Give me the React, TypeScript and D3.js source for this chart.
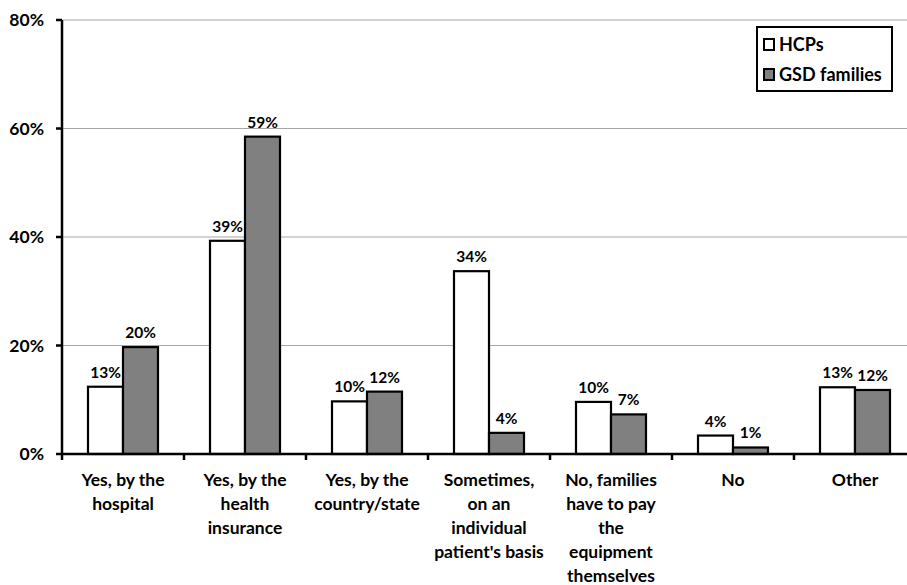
import React from "react";
import * as d3 from "d3";

const categories = [
  "Yes, by the|hospital",
  "Yes, by the|health|insurance",
  "Yes, by the|country/state",
  "Sometimes,|on an|individual|patient's basis",
  "No, families|have to pay|the|equipment|themselves",
  "No",
  "Other",
];
const seriesNames = ["HCPs", "GSD families"];
const hcpValues = [12.4, 39.3, 9.7, 33.7, 9.6, 3.4, 12.3];
const gsdValues = [19.7, 58.5, 11.5, 3.9, 7.3, 1.2, 11.8];
const hcpLabels = ["13%", "39%", "10%", "34%", "10%", "4%", "13%"];
const gsdLabels = ["20%", "59%", "12%", "4%", "7%", "1%", "12%"];
const yTicks = [0, 20, 40, 60, 80];

const W = 907;
const H = 585;
const FONT = "Lato, 'Open Sans', sans-serif";

export default function App() {
  const left = 62;
  const right = 916;
  const top = 20;
  const bottom = 454;
  const x = d3.scaleBand<number>().domain(d3.range(categories.length)).range([left, right]).paddingInner(0).paddingOuter(0);
  const y = d3.scaleLinear().domain([0, 80]).range([bottom, top]);
  const inner = d3.scaleBand<number>().domain([0, 1]).range([0, 70]);
  const groupOffset = (x.bandwidth() - 70) / 2;
  const series = [
    { values: hcpValues, labels: hcpLabels, fill: "#ffffff" },
    { values: gsdValues, labels: gsdLabels, fill: "#808080" },
  ];
  const catTicks = d3.range(categories.length + 1).map((i) => left + i * x.step());

  return (
    <div style={{ position: "fixed", left: 0, top: 0 }}>
      <svg width={W} height={H} style={{ display: "block", background: "#fff" }} fontFamily={FONT} fontWeight="bold">
        {yTicks.filter((t) => t > 0).map((t) => (
          <line key={"g" + t} x1={left} x2={W} y1={y(t)} y2={y(t)} stroke="#a6a6a6" strokeWidth={1.2} />
        ))}
        {yTicks.map((t) => (
          <g key={"yt" + t}>
            <line x1={left - 6} x2={left} y1={y(t)} y2={y(t)} stroke="#000" strokeWidth={2.5} />
            <text x={44} y={y(t)} dy="0.35em" textAnchor="end" fontSize={17.5}>{t + "%"}</text>
          </g>
        ))}
        {series.map((s, si) =>
          s.values.map((v, i) => {
            const bx = (x(i) as number) + groupOffset + (inner(si) as number);
            const bw = inner.bandwidth();
            return (
              <g key={"b" + si + "-" + i}>
                <rect x={bx} y={y(v)} width={bw} height={y(0) - y(v)} fill={s.fill} stroke="#000" strokeWidth={2.2} />
                <text x={bx + bw / 2} y={y(v) - 9} textAnchor="middle" fontSize={15.5}>{s.labels[i]}</text>
              </g>
            );
          })
        )}
        <line x1={left} x2={left} y1={top} y2={bottom + 1} stroke="#000" strokeWidth={2.5} />
        <line x1={left - 1} x2={W} y1={bottom} y2={bottom} stroke="#000" strokeWidth={2.5} />
        {catTicks.map((tx, i) => (
          <line key={"ct" + i} x1={tx} x2={tx} y1={bottom} y2={bottom + 6} stroke="#000" strokeWidth={2.5} />
        ))}
        {categories.map((c, i) => (
          <text key={"c" + i} x={(x(i) as number) + x.bandwidth() / 2} y={486} textAnchor="middle" fontSize={17.5}>
            {c.split("|").map((line, li) => (
              <tspan key={li} x={(x(i) as number) + x.bandwidth() / 2} dy={li === 0 ? 0 : 24}>{line}</tspan>
            ))}
          </text>
        ))}
        <g>
          <rect x={757} y={27} width={135} height={64} fill="#fff" stroke="#000" strokeWidth={2} />
          {seriesNames.map((n, i) => (
            <g key={"l" + i}>
              <rect x={764} y={39 + i * 30} width={10} height={11} fill={series[i].fill} stroke="#000" strokeWidth={2} />
              <text x={779} y={44.5 + i * 30} dy="0.35em" fontSize={18}>{n}</text>
            </g>
          ))}
        </g>
      </svg>
    </div>
  );
}
